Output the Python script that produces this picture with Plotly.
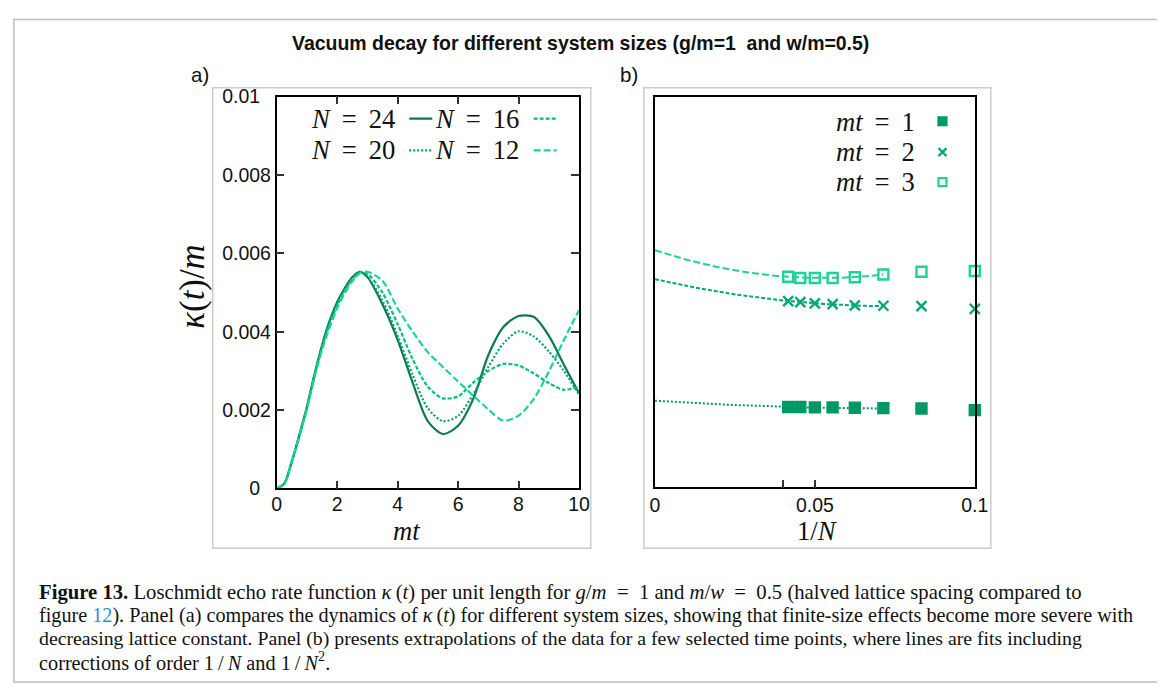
import numpy as np
import plotly.graph_objects as go

# Figure size; positions below are given in target picture pixels and mapped to paper
# fractions through a measured page->picture calibration (scale and offset).
W, H = 1165, 692
PAGE_OFF = 8
S_X, O_X = 0.981, 6.0
S_Y, O_Y = 0.971, 10.4
FS = 1 / 0.976  # font compensation for the same calibration

# ---------------- data: panel a ----------------
t_vals = [0, 0.25, 0.5, 0.75, 1.0, 1.25, 1.5, 1.75, 2.0, 2.25, 2.5, 2.75, 3.0,
          3.5, 4.0, 4.5, 5.0, 5.5, 6.0, 6.5, 7.0, 7.5, 8.0, 8.5, 9.0, 9.5, 10.0]
kappa_N24 = [0, 0.00012, 0.00068, 0.00135, 0.00207, 0.0029, 0.00365, 0.00427, 0.00475,
             0.00511, 0.00539, 0.00553, 0.0054, 0.0047, 0.0038, 0.0027, 0.00172, 0.00139,
             0.0016, 0.00228, 0.0034, 0.00412, 0.0044, 0.00438, 0.0039, 0.00316, 0.00243]
kappa_N20 = [0, 0.00012, 0.00068, 0.00135, 0.00206, 0.00289, 0.00363, 0.00424, 0.00471,
             0.00508, 0.00537, 0.00553, 0.00541, 0.0048, 0.0039, 0.0029, 0.00205, 0.00172,
             0.00185, 0.0024, 0.0031, 0.0037, 0.00401, 0.00388, 0.0035, 0.003, 0.0024]
kappa_N16 = [0, 0.00012, 0.00067, 0.00134, 0.00204, 0.00286, 0.00359, 0.00418, 0.00466,
             0.00504, 0.00533, 0.0055, 0.00548, 0.005, 0.0042, 0.0033, 0.0026, 0.0023,
             0.00235, 0.0027, 0.003, 0.00318, 0.00314, 0.00294, 0.00269, 0.00252, 0.0026]
kappa_N12 = [0, 0.00012, 0.00066, 0.00132, 0.00202, 0.00282, 0.00353, 0.0041, 0.00459,
             0.00498, 0.00528, 0.00549, 0.00553, 0.0053, 0.0046, 0.004, 0.00348, 0.0031,
             0.00273, 0.00237, 0.00202, 0.00173, 0.00186, 0.00228, 0.00298, 0.00379, 0.00455]
series_a_names = ["N = 24", "N = 20", "N = 16", "N = 12"]
ticks_a_x = [0, 2, 4, 6, 8, 10]
ticks_y = [0, 0.002, 0.004, 0.006, 0.008, 0.01]
ticklabels_y = ["0", "0.002", "0.004", "0.006", "0.008", "0.01"]

# ---------------- data: panel b ----------------
N_sizes = [24, 22, 20, 18, 16, 14, 12, 10]
kappa_mt1 = [0.00206, 0.00206, 0.00205, 0.00205, 0.00204, 0.00203, 0.00202, 0.00198]
kappa_mt2 = [0.00477, 0.00474, 0.00471, 0.00469, 0.00466, 0.00465, 0.00464, 0.00457]
kappa_mt3 = [0.00539, 0.00536, 0.00536, 0.00536, 0.00538, 0.00545, 0.00552, 0.00554]
series_b_names = ["mt = 1", "mt = 2", "mt = 3"]
# fit kappa = a + b/N + c/N^2, drawn over N >= 14
fit_mt1 = [0.00222, -0.00529, 0.0349]
fit_mt2 = [0.00533, -0.01873, 0.1269]
fit_mt3 = [0.00607, -0.02702, 0.2566]
fit_N_min = 14
ticks_b_x = [0, 0.05, 0.1]
ticklabels_b_x = ["0", "0.05", "0.1"]

# ---------------- styles ----------------
col_a = ["#0B7A50", "#00A06A", "#00BF80", "#19D494"]
dash_a = ["solid", "2px,2px", "4px,2px", "7px,3px"]
col_b = ["#009966", "#00A874", "#1FD193"]
dash_b = ["2px,2px", "4px,2px", "7px,3px"]
sym_b = ["square", "x-thin", "square-open"]

SANS = "Liberation Sans, Arial, sans-serif"
SERIF = "Liberation Serif, Times New Roman, serif"
NB = "\u00a0"


def X(T):
    return ((T - O_X) / S_X - PAGE_OFF) / W


def Y(T):
    return 1 - ((T - O_Y) / S_Y - PAGE_OFF) / H


def clamp(v):
    return min(max(v, 0.0008), 0.9992)


def f(sz):
    return sz * FS


# y tick labels in the reference are left-aligned; pad the short ones with no-break spaces
ticktext_y = [lab + NB * 2 if len(lab) < 5 else lab for lab in ticklabels_y]

fig = go.Figure()

# panel a curves
for name, ys, c, d in zip(series_a_names, [kappa_N24, kappa_N20, kappa_N16, kappa_N12], col_a, dash_a):
    fig.add_trace(go.Scatter(x=t_vals, y=ys, mode="lines", name=name,
                             line=dict(color=c, width=2.2, dash=d, shape="spline", smoothing=0.8),
                             xaxis="x", yaxis="y", showlegend=False))

# panel b fits and markers
inv_N = [1.0 / n for n in N_sizes]
xfit = np.linspace(0, 1.0 / fit_N_min, 60)
for fit, c, d in zip([fit_mt1, fit_mt2, fit_mt3], col_b, dash_b):
    yfit = fit[0] + fit[1] * xfit + fit[2] * xfit ** 2
    fig.add_trace(go.Scatter(x=xfit, y=yfit, mode="lines", line=dict(color=c, width=2, dash=d),
                             xaxis="x2", yaxis="y2", showlegend=False))
for name, ys, c, s in zip(series_b_names, [kappa_mt1, kappa_mt2, kappa_mt3], col_b, sym_b):
    fig.add_trace(go.Scatter(x=inv_N, y=ys, mode="markers", name=name,
                             marker=dict(symbol=s, size=10, color=c,
                                         line=dict(color=c, width=2.4)),
                             xaxis="x2", yaxis="y2", showlegend=False, cliponaxis=False))

# ---------------- custom keys (gnuplot style: sample to the right of the text) ----------------
leg_a_rows = [0.944, 0.944, 0.8626, 0.8626]
leg_a_x = [(0.4387, 0.515), (0.85, 0.926), (0.4387, 0.515), (0.85, 0.926)]
leg_a_order = [0, 2, 1, 3]  # N=24, N=16, N=20, N=12
for slot, idx in enumerate(leg_a_order):
    x0, x1 = leg_a_x[slot]
    fig.add_trace(go.Scatter(x=[x0, x1], y=[leg_a_rows[slot]] * 2, mode="lines",
                             line=dict(color=col_a[idx], width=2.2, dash=dash_a[idx]),
                             xaxis="x5", yaxis="y5", showlegend=False, hoverinfo="skip"))
leg_a_text_x = [397, 520, 397, 520]
leg_a_text_y = [118, 118, 150, 150]
for slot, idx in enumerate(leg_a_order):
    label = "<i>N</i>\u2009 = \u2009" + series_a_names[idx].split("= ")[1]
    fig.add_annotation(x=X(leg_a_text_x[slot]), y=Y(leg_a_text_y[slot]), xref="paper", yref="paper",
                       text=label, showarrow=False, xanchor="right", yanchor="middle",
                       font=dict(family=SERIF, size=f(26), color="#111"))

leg_b_y = [0.937, 0.858, 0.781]
leg_b_py = [121, 152, 182]
for i in range(3):
    fig.add_trace(go.Scatter(x=[0.899], y=[leg_b_y[i]], mode="markers",
                             marker=dict(symbol=sym_b[i], size=8, color=col_b[i],
                                         line=dict(color=col_b[i], width=2.2)),
                             xaxis="x6", yaxis="y6", showlegend=False, hoverinfo="skip"))
    fig.add_annotation(x=X(915), y=Y(leg_b_py[i]), xref="paper", yref="paper",
                       text="<i>mt</i>\u2009 = \u2009%d" % (i + 1), showarrow=False,
                       xanchor="right", yanchor="middle",
                       font=dict(family=SERIF, size=f(26), color="#111"))

xa = [X(276.7), X(578.3)]
ya = [Y(489), Y(96)]
xb = [X(654), X(973)]
yb = [Y(488), Y(96)]

axis_common = dict(showline=True, linecolor="black", linewidth=1.5, ticks="inside", ticklen=8,
                   tickcolor="#333", tickwidth=1.5, showgrid=False, zeroline=False,
                   tickfont=dict(family=SANS, size=f(19), color="#111"))

fig.update_layout(
    width=W, height=H, autosize=False,
    margin=dict(l=0, r=0, t=0, b=0),
    paper_bgcolor="white", plot_bgcolor="rgba(0,0,0,0)",
    xaxis=dict(domain=xa, range=[0, 10], tickvals=ticks_a_x, mirror="allticks",
               anchor="y", ticklabelstandoff=-3, **axis_common),
    yaxis=dict(domain=ya, range=[0, 0.01], tickvals=ticks_y, ticktext=ticktext_y,
               mirror="allticks", anchor="x", ticklabelstandoff=0, **axis_common),
    xaxis2=dict(domain=xb, range=[0, 0.1], tickvals=ticks_b_x, ticktext=ticklabels_b_x,
                mirror=True, anchor="y2", ticklabelstandoff=-1,
                minor=dict(tickvals=[0.04], ticks="inside", ticklen=8, tickcolor="#333",
                           tickwidth=1.5, showgrid=False),
                **axis_common),
    yaxis2=dict(domain=yb, range=[0, 0.01], showline=True, linecolor="black", linewidth=1.5,
                mirror=True, showticklabels=False, ticks="", showgrid=False, zeroline=False,
                anchor="x2"),
    xaxis4=dict(overlaying="x2", side="top", range=[0, 0.1], tickvals=[0.04, 0.05, 0.09],
                ticks="inside", ticklen=8, tickcolor="#333", tickwidth=1.5,
                showticklabels=False, showgrid=False, zeroline=False, showline=False, anchor="y2"),
    xaxis5=dict(overlaying="x", range=[0, 1], visible=False, anchor="y5"),
    yaxis5=dict(overlaying="y", range=[0, 1], visible=False, anchor="x5"),
    xaxis6=dict(overlaying="x2", range=[0, 1], visible=False, anchor="y6"),
    yaxis6=dict(overlaying="y2", range=[0, 1], visible=False, anchor="x6"),
)

# frames
fig.add_shape(type="rect", xref="paper", yref="paper", x0=clamp(X(8)), x1=clamp(X(1157)),
              y0=clamp(Y(683)), y1=clamp(Y(8)), line=dict(color="#bdbdbd", width=1.5), layer="below")
fig.add_shape(type="rect", xref="paper", yref="paper", x0=X(213), x1=X(590), y0=Y(549), y1=Y(87),
              line=dict(color="#cccccc", width=1.5), layer="below")
fig.add_shape(type="rect", xref="paper", yref="paper", x0=X(643), x1=X(989), y0=Y(549), y1=Y(87),
              line=dict(color="#cccccc", width=1.5), layer="below")

# titles and labels
fig.add_annotation(x=X(580), y=Y(42), xref="paper", yref="paper", showarrow=False,
                   text="<b>Vacuum decay for different system sizes (g/m=1  and w/m=0.5)</b>",
                   font=dict(family=SANS, size=f(19), color="#111"), xanchor="center", yanchor="middle")
fig.add_annotation(x=X(200), y=Y(74), xref="paper", yref="paper", showarrow=False, text="a)",
                   font=dict(family=SANS, size=f(20), color="#111"), xanchor="center", yanchor="middle")
fig.add_annotation(x=X(628), y=Y(74), xref="paper", yref="paper", showarrow=False, text="b)",
                   font=dict(family=SANS, size=f(20), color="#111"), xanchor="center", yanchor="middle")
fig.add_annotation(x=X(192), y=Y(287), xref="paper", yref="paper", showarrow=False,
                   text="<i>κ</i>(<i>t</i>)/<i>m</i>", textangle=-90,
                   font=dict(family=SERIF, size=f(34), color="#111"), xanchor="center", yanchor="middle")
fig.add_annotation(x=X(406), y=Y(532), xref="paper", yref="paper", showarrow=False,
                   text="<i>mt</i>", font=dict(family=SERIF, size=f(26), color="#111"),
                   xanchor="center", yanchor="middle")
fig.add_annotation(x=X(816), y=Y(532), xref="paper", yref="paper", showarrow=False,
                   text="1/<i>N</i>", font=dict(family=SERIF, size=f(26), color="#111"),
                   xanchor="center", yanchor="middle")

EQ = "\u2002=\u2002"
caption = [
    "<b>Figure 13.</b> Loschmidt echo rate function <i>κ</i>\u2009(<i>t</i>) per unit length for "
    "<i>g</i>/<i>m</i>" + EQ + "1 and <i>m</i>/<i>w</i>" + EQ + "0.5 (halved lattice spacing compared to",
    "figure <span style='color:#2b8fd6'>12</span>). Panel (a) compares the dynamics of "
    "<i>κ</i>\u2009(<i>t</i>) for different system sizes, showing that finite-size effects become more severe with",
    "decreasing lattice constant. Panel (b) presents extrapolations of the data for a few selected "
    "time points, where lines are fits including",
    "corrections of order 1\u2009/\u2009<i>N</i> and 1\u2009/\u2009<i>N</i><sup>2</sup>.",
]
cap_y = [593, 616, 639, 662]
cap_size = [20.2, 19.7, 19.3, 19.8]
for line, yy, sz in zip(caption, cap_y, cap_size):
    fig.add_annotation(x=X(38), y=Y(yy), xref="paper", yref="paper", showarrow=False, text=line,
                       font=dict(family=SERIF, size=f(sz), color="#111"), xanchor="left", yanchor="middle")

fig.write_html("out.html")
